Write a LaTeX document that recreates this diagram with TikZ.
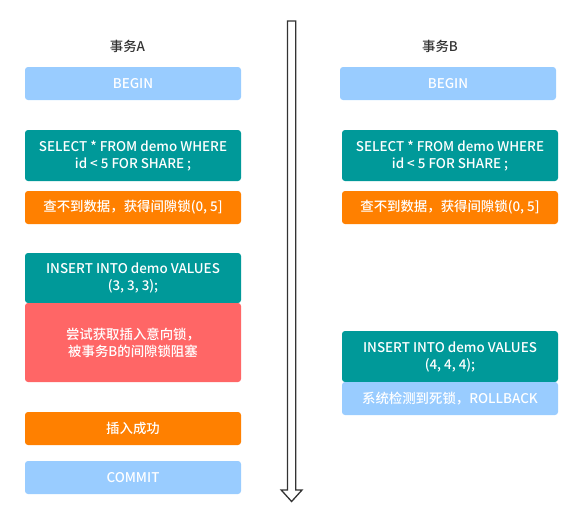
\documentclass[tikz,border=0pt]{standalone}
\usepackage{fontspec}
\setmainfont{Noto Sans CJK SC}[UprightFont={* Medium}]
\begin{document}
\definecolor{lightblue}{HTML}{99CCFF}
\definecolor{teal}{HTML}{009999}
\definecolor{orange}{HTML}{FF8000}
\definecolor{redbox}{HTML}{FF6666}
\definecolor{ink}{HTML}{333333}
\begin{tikzpicture}[x=1pt,y=-1pt,
  every node/.style={font=\fontsize{13.4}{17}\selectfont, inner sep=0pt, align=center},
  box/.style={rectangle, rounded corners=3pt, minimum width=216pt, text=white},
  short/.style={box, minimum height=33pt},
  tall/.style={box, minimum height=51pt},
  head/.style={text=ink}]
\useasboundingbox (0,0) rectangle (586,528);

% time axis: hollow downward arrow
\draw[ink, line width=1.3pt, fill=white, line join=miter]
  (287.5,21) -- (295.7,21) -- (295.7,490) -- (302,490) -- (291.6,501.5)
  -- (281.2,490) -- (287.5,490) -- cycle;

% transaction A
\node[head] (ha) at (127.5,46) {事务A};
\node[short, fill=lightblue] (a1) at (133,83.5) {BEGIN};
\node[tall, fill=teal] (a2) at (133,155.5) {SELECT * FROM demo WHERE\\id < 5 FOR SHARE ;};
\node[short, fill=orange] (a3) at (133,207.5) {查不到数据，获得间隙锁(0, 5]};
\node[box, minimum height=50pt, fill=teal] (a4) at (133,278) {INSERT INTO demo VALUES\\(3, 3, 3);};
\node[box, minimum height=79pt, fill=redbox] (a5) at (133,342.5) {尝试获取插入意向锁，\\被事务B的间隙锁阻塞};
\node[short, fill=orange] (a6) at (133,428.5) {插入成功};
\node[short, fill=lightblue] (a7) at (133,477.5) {COMMIT};

% transaction B
\node[head] (hb) at (440,46) {事务B};
\node[short, fill=lightblue] (b1) at (448,83.5) {BEGIN};
\node[tall, fill=teal] (b2) at (450,155.5) {SELECT * FROM demo WHERE\\id < 5 FOR SHARE ;};
\node[short, fill=orange] (b3) at (450,207.5) {查不到数据，获得间隙锁(0, 5]};
\node[tall, fill=teal] (b4) at (450,356.5) {INSERT INTO demo VALUES\\(4, 4, 4);};
\node[short, fill=lightblue] (b5) at (450,398.5) {系统检测到死锁，ROLLBACK};
\end{tikzpicture}
\end{document}
